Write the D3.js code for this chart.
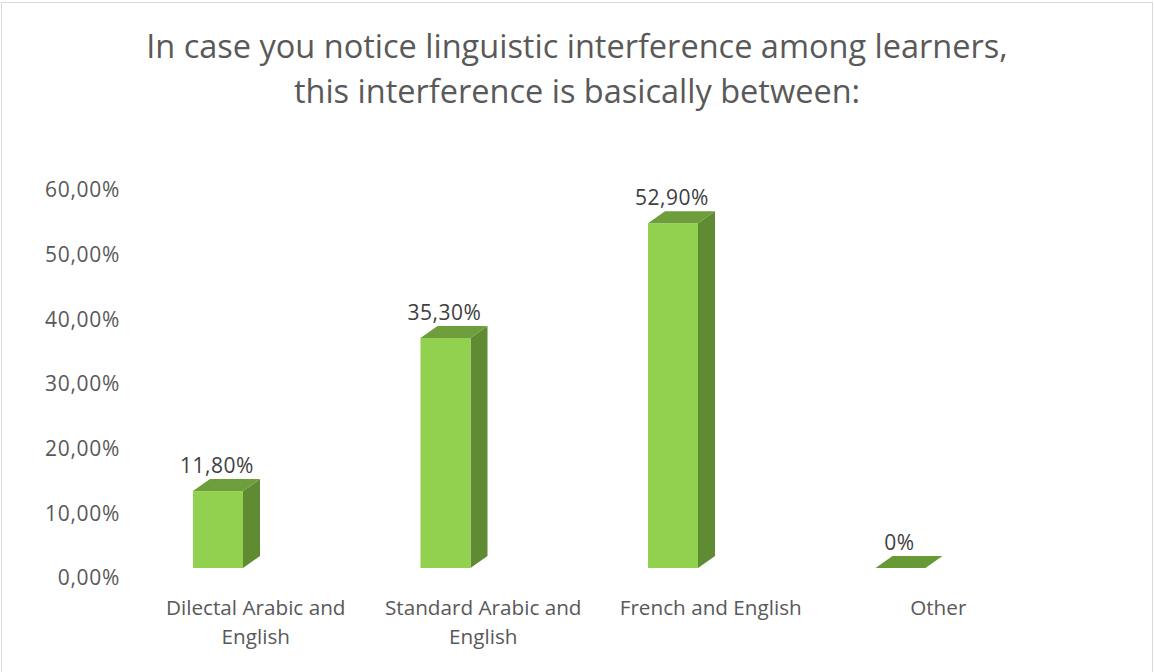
<!DOCTYPE html>
<html>
<head>
<meta charset="utf-8">
<script src="https://cdn.jsdelivr.net/npm/d3@7"></script>
<style>
  html, body { margin: 0; padding: 0; background: #fff; }
  svg { display: block; }
  text { font-family: "Open Sans", Lato, sans-serif; }
</style>
</head>
<body>
<svg id="chart" width="1154" height="672"></svg>
<script>
// Survey responses: where linguistic interference is observed
const categories = [
  ["Dilectal Arabic and", "English"],
  ["Standard Arabic and", "English"],
  ["French and English"],
  ["Other"]
];
const values = [11.8, 35.3, 52.9, 0];
const valueLabels = ["11,80%", "35,30%", "52,90%", "0%"];
const tickValues = [0, 10, 20, 30, 40, 50, 60];
const titleLines = [
  "In case you notice linguistic interference among learners,",
  "this interference is basically between:"
];

const svg = d3.select("#chart");
const W = 1154, H = 672;
const FONT = "'Open Sans', Lato, sans-serif";

// frame
svg.append("rect")
  .attr("x", 1.5).attr("y", 2.5)
  .attr("width", W - 3).attr("height", H + 10)
  .attr("fill", "#fff").attr("stroke", "#d9d9d9").attr("stroke-width", 1);

// title
svg.append("g").selectAll("text")
  .data(titleLines).join("text")
  .attr("x", 577).attr("y", (d, i) => 58 + i * 45)
  .attr("text-anchor", "middle")
  .attr("font-size", 32.5)
  .attr("fill", "#595959")
  .text(d => d);

// scales
const x = d3.scaleBand().domain(d3.range(categories.length)).range([142, 1052]);
const y = d3.scaleLinear().domain([0, 60]).range([568, 177]);
const yAxisScale = d3.scaleLinear().domain([0, 60]).range([578, 190]);

// 3D depth offsets
const dx = 17, dy = -12;
const barW = 50, barInset = 51;

// value axis labels
const yAxis = d3.axisLeft(yAxisScale)
  .tickValues(tickValues)
  .tickSize(0)
  .tickPadding(0)
  .tickFormat(d => d.toFixed(2).replace(".", ",") + "%");
const ag = svg.append("g").attr("transform", "translate(120,0)").call(yAxis);
ag.select(".domain").remove();
ag.selectAll("text")
  .attr("font-family", FONT)
  .attr("font-size", 21)
  .attr("letter-spacing", 0.7)
  .attr("fill", "#595959");

// bars
const bars = svg.append("g").selectAll("g")
  .data(values).join("g");

bars.each(function(v, i) {
  const g = d3.select(this);
  const x0 = x(i) + barInset, x1 = x0 + barW;
  const yb = y(0), yt = y(v);
  if (v > 0) {
    // side face
    g.append("path")
      .attr("d", `M${x1},${yb} L${x1 + dx},${yb + dy} L${x1 + dx},${yt + dy} L${x1},${yt} Z`)
      .attr("fill", "#5f8b33");
    // front face
    g.append("rect")
      .attr("x", x0).attr("y", yt)
      .attr("width", barW).attr("height", yb - yt)
      .attr("fill", "#92d050");
  }
  // top face
  g.append("path")
    .attr("d", `M${x0},${yt} L${x1},${yt} L${x1 + dx},${yt + dy} L${x0 + dx},${yt + dy} Z`)
    .attr("fill", v > 0 ? "#6d9e3b" : "#679a36");
});

// value labels
svg.append("g").selectAll("text")
  .data(values).join("text")
  .attr("x", (d, i) => x(i) + barInset + barW / 2 - 1)
  .attr("y", d => y(d) + dy - 6)
  .attr("text-anchor", "middle")
  .attr("font-size", 21)
  .attr("letter-spacing", 0.5)
  .attr("fill", "#404040")
  .text((d, i) => valueLabels[i]);

// category labels
const cg = svg.append("g").selectAll("text")
  .data(categories).join("text")
  .attr("x", (d, i) => x(i) + x.bandwidth() / 2)
  .attr("y", 615)
  .attr("text-anchor", "middle")
  .attr("font-size", 20.7)
  .attr("fill", "#595959");
cg.selectAll("tspan")
  .data(d => d).join("tspan")
  .attr("x", function() { return d3.select(this.parentNode).attr("x"); })
  .attr("dy", (d, j) => j === 0 ? 0 : 29)
  .text(d => d);
</script>
</body>
</html>
